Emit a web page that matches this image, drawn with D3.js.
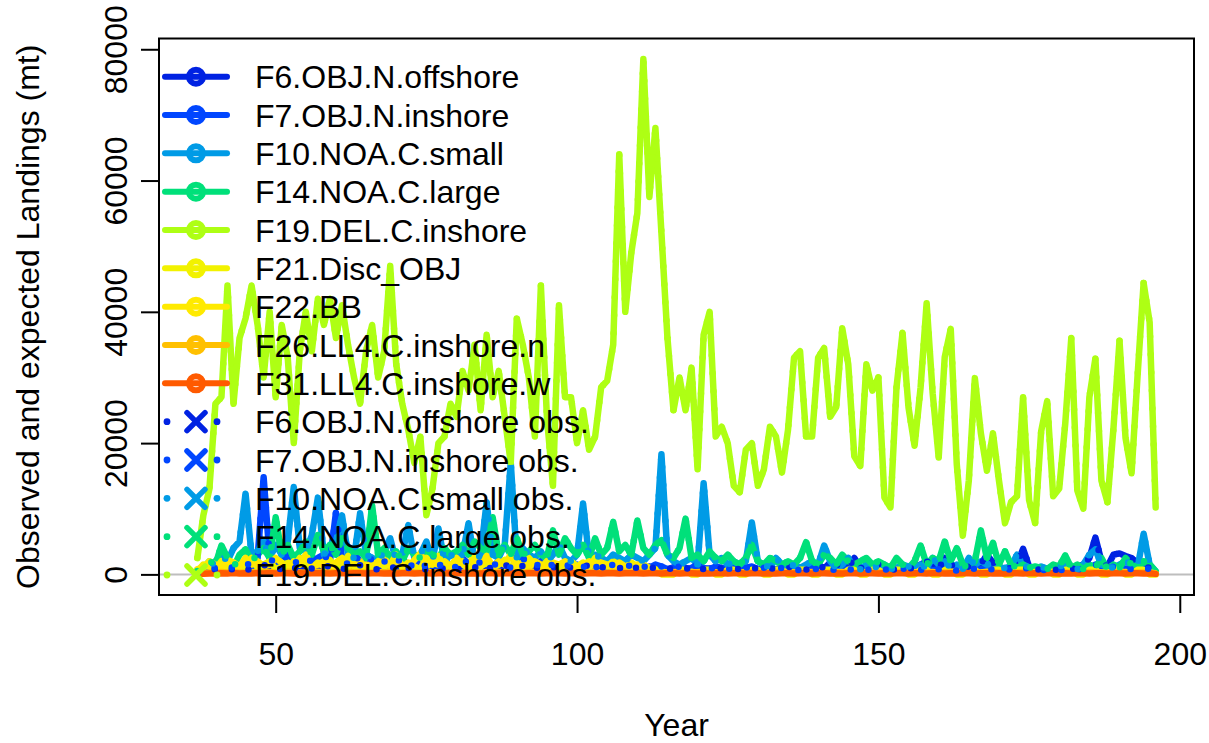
<!DOCTYPE html>
<html><head><meta charset="utf-8">
<script src="https://cdn.jsdelivr.net/npm/d3@7"></script>
<style>html,body{margin:0;padding:0;background:#fff;} svg{display:block;}</style>
</head><body><svg id="c" width="1209" height="743"></svg>
<script>
const firstYear = 37, lastYear = 196;
const xTicks = [50, 100, 150, 200];
const yTicks = [0, 20000, 40000, 60000, 80000];
const fleetNames = ["F6.OBJ.N.offshore","F7.OBJ.N.inshore","F10.NOA.C.small","F14.NOA.C.large","F19.DEL.C.inshore","F21.Disc_OBJ","F22.BB","F26.LL4.C.inshore.n","F31.LL4.C.inshore.w"];
const fleetColors = ["#0022E2","#0046FF","#009BE6","#00E07A","#AEFF14","#F2F200","#FFEA00","#FFC000","#FF5A00"];
const obsNames = ["F6.OBJ.N.offshore obs.","F7.OBJ.N.inshore obs.","F10.NOA.C.small obs.","F14.NOA.C.large obs.","F19.DEL.C.inshore obs."];
const obsColors = ["#0022E2","#0046FF","#009BE6","#00E07A","#AEFF14"];

// expected landings, years 37..196
const F6 = [100,300,500,800,600,1000,700,1200,900,600,
1000,1500,800,1200,700,1500,1000,800,1300,900,
1200,800,1500,1000,700,1200,900,1400,800,1000,
700,1100,800,1300,600,1000,800,1200,700,900,
1100,800,1400,900,700,1200,1000,1600,800,1100,
900,1500,1000,700,1300,1800,900,1200,800,1000,
1400,800,1100,700,1000,1500,900,1200,800,1000,
900,1300,700,1100,800,1200,900,1000,700,1100,
800,1000,600,1200,800,900,700,1000,800,600,
900,700,1100,800,600,1000,700,900,1200,800,
1000,700,1300,1500,900,1800,1400,1500,1000,2500,
1000,800,1200,1500,700,900,600,1000,800,1200,
1500,2000,1200,900,2500,1500,1000,700,1200,900,
1500,3000,1800,1200,800,1000,1500,3900,1200,800,
700,900,600,800,1000,700,1200,1500,2500,5600,
2000,1200,3000,3200,2800,2500,1500,1200,1000,300];
const F7 = [200,400,700,1000,800,1200,1000,1500,1800,1200,
2500,14800,2500,1500,2000,3000,1500,2500,1800,2200,
2500,3000,2000,9400,2500,1500,3000,2000,1500,2500,
1500,2000,1200,1800,2500,1200,1500,2200,1000,1500,
1200,2000,1500,1000,2500,1500,1000,2000,1500,1200,
2000,1500,1000,2000,2500,1500,1000,2000,1200,1500,
1000,1500,1200,1500,1000,2000,1000,1500,1000,1500,
1200,1000,1500,800,1200,1000,1500,1200,800,1000,
1200,800,1000,1500,1000,800,1200,1000,800,1000,
800,1000,1200,800,1000,600,800,1000,1200,800,
600,800,1000,700,900,800,600,1000,800,700,
800,600,900,700,800,600,700,900,600,800,
700,900,600,800,1000,700,600,800,700,900,
800,1000,700,600,800,700,900,1200,700,600,
700,600,800,700,600,800,700,900,1000,1500,
1000,800,1200,1000,900,800,700,1000,800,300];
const F10 = [300,600,1200,2000,3000,2000,4000,5000,12300,3000,
3500,5000,2500,4500,3000,5000,13300,4000,3500,6000,
11700,3000,4500,5000,9000,3000,2500,9300,3000,2500,
2000,3500,5500,2000,3000,7500,2500,3000,5000,2000,
7000,2000,3000,2500,3000,7800,2000,3000,11000,3000,
2500,4500,17000,2500,4000,3000,2500,3500,2000,3000,
4500,2500,2000,3000,10800,2500,3000,2500,2000,3000,
2500,2000,3000,2500,2000,3000,4000,18300,3000,2000,
1500,2000,2500,1500,13900,3000,2000,2500,1500,2000,
1500,2000,7900,2000,1500,1000,2500,1500,1000,1500,
1000,1500,2000,1500,4400,2000,1000,1500,2500,1000,
800,1500,1000,1200,1500,800,1000,1500,1200,800,
1500,1000,2500,1500,2000,1000,1500,800,2500,1500,
2000,1500,1500,800,1000,1200,3000,1500,1000,800,
1200,800,1000,1200,1500,1000,800,1500,3000,3800,
1500,1200,1000,1500,2000,1500,1000,6200,1500,500];
const F14 = [500,1000,2000,1500,4400,2500,1000,3000,3800,2000,
3000,4000,2500,8700,3000,4500,2500,3500,5000,3000,
6000,3500,4500,3000,5500,4000,3000,3500,2500,10500,
3000,4000,2500,3500,2000,4000,3000,2500,3500,3000,
2500,4000,3000,3500,4500,3000,5000,4000,3500,8700,
3000,4500,3000,5500,3000,3500,4500,3000,2500,6700,
3000,5500,4000,3000,4500,2500,5500,3000,4000,8000,
3500,4500,3000,8200,4000,3000,4500,5200,3000,2500,
4000,8500,2500,3000,2000,3500,2500,2000,3000,2000,
1500,2500,4500,2000,1500,2500,2000,1500,2000,1500,
2500,4900,2000,1500,3000,2500,1500,3000,2000,1500,
2000,2500,1500,2000,1500,1000,2500,1500,1000,2000,
4400,1500,2500,2000,5000,2000,4000,1500,1000,2000,
6700,2500,4800,1500,3500,1500,1000,1500,1000,1200,
1000,800,1500,1200,2900,1000,1500,800,1500,1000,
2500,800,1500,1000,2500,1500,1000,2000,1500,500];
const F19 = [2500,9000,13000,26000,27000,44000,26000,36000,39000,44000,
38000,30000,40000,27000,38000,33000,20000,34000,40000,34000,
42000,38000,42000,36000,41000,35000,30000,26000,34000,38000,
30000,34000,47000,32000,26000,22000,17000,21000,9000,13000,
20000,21000,26000,24000,31000,28000,35000,25000,36500,27000,
31000,24000,17000,39000,35000,30000,21000,44000,24000,13500,
41000,27000,27000,20000,25000,19000,21000,28500,29500,35000,
64000,40000,49000,55000,78500,57500,68000,52000,36000,25000,
30000,25000,31500,16000,36500,40000,21000,22500,20000,13500,
12500,19000,20000,13500,16000,22500,21000,15500,22000,33000,
34000,21000,21000,33000,34500,24000,25500,37500,32000,18000,
16500,32000,28000,30000,11700,10200,28500,36800,25400,19600,
28500,41300,27600,17800,33100,37400,16800,5900,14300,29900,
21500,15800,21500,14300,7800,11000,11900,27000,11300,7800,
21800,26400,11900,13100,23000,36000,12800,10000,27000,32900,
14300,11000,22300,35600,20800,15400,30300,44400,38400,10200];
const F21 = [500,1500,1200,800,2000,1000,1500,800,1200,2500,
1000,1500,2000,800,1200,1800,1000,2500,1500,1000,
1800,1200,2200,1000,1500,2800,1200,800,1500,1000,
2000,1200,1500,3000,1000,1800,1200,800,2500,1500,
2800,1000,1500,1200,2000,1500,3000,1200,1800,1000,
1500,2200,1000,1800,1200,2500,1500,1000,2000,1200,
1000,1500,2000,1200,1800,1000,2500,1500,1200,2000,
1500,1000,1800,1200,1500,1000,800,0,0,0,
700,700,0,0,700,700,0,0,700,700,
0,0,700,700,0,0,700,700,0,0,
700,700,0,0,700,700,0,0,700,700,
0,0,700,700,0,0,700,700,0,0,
700,700,0,0,700,700,0,0,700,700,
0,0,700,700,0,0,700,700,0,0,
700,700,0,0,700,700,0,0,700,700,
0,0,700,700,0,0,700,700,0,0];
const F22 = [800,1000,2000,1500,1000,2200,1800,1200,2500,1500,
2000,1200,1500,2500,1800,1000,2000,1500,3000,1200,
1500,2000,1000,1800,2500,1200,1500,2000,1000,1800,
1500,2500,1200,2000,1500,1000,2200,3200,1200,1800,
1500,2000,1200,2500,1500,1000,2000,1500,2800,1200,
2000,1500,3000,1200,1800,1000,2000,1500,1000,1800,
1500,2000,1200,1000,1500,2000,1200,1800,1500,1000,
1800,1200,1000,1500,1200,800,600,400,300,300,
300,250,400,300,350,250,300,400,300,250,
350,300,250,400,300,350,250,300,400,300,
250,350,300,400,250,300,350,300,250,400,
300,350,250,300,400,300,250,350,300,300,
400,250,300,350,300,250,400,300,350,250,
300,400,300,250,350,300,400,250,300,350,
300,250,400,300,350,300,250,400,300,350,
250,300,400,300,350,250,300,400,300,150];
const F26 = [100,200,300,250,350,300,400,250,300,350,
300,400,350,250,300,400,350,300,250,350,
400,300,350,250,300,400,300,350,250,300,
350,300,400,250,300,350,300,250,400,300,
300,350,250,400,300,350,300,250,350,300,
400,300,350,300,250,350,400,300,350,250,
300,350,300,250,400,300,350,300,250,350,
300,400,300,250,350,300,300,250,300,350,
300,250,300,350,300,250,300,350,300,250,
300,350,300,250,300,300,350,250,300,300,
250,300,350,300,250,300,300,350,250,300,
300,250,350,300,300,250,300,350,300,250,
300,300,350,250,300,300,250,350,300,300,
250,300,350,300,300,250,300,350,300,250,
300,300,250,350,300,300,250,300,350,300,
300,250,300,350,300,250,300,300,250,100];
const F31 = [50,100,150,120,180,150,200,130,170,150,
180,150,200,140,160,190,150,170,140,180,
160,190,150,170,200,140,160,180,150,170,
190,150,170,140,180,160,150,190,170,150,
160,180,150,170,190,150,160,140,180,170,
150,190,160,170,140,180,160,150,190,170,
160,150,180,170,140,190,160,150,170,180,
150,170,160,190,150,170,160,140,180,160,
150,170,160,140,180,150,170,160,150,170,
160,150,170,180,140,160,150,170,160,150,
170,160,150,180,160,140,170,150,160,170,
150,160,170,140,160,150,170,160,150,170,
160,150,170,160,140,170,150,160,170,150,
160,170,150,160,140,170,160,150,170,160,
150,160,170,150,160,140,170,160,150,170,
160,150,170,160,150,170,160,150,160,80];

// observed landings (read as matching the expected fits)
const F6obs = F6, F7obs = F7, F10obs = F10, F14obs = F14, F19obs = F19;

const years = d3.range(firstYear, lastYear + 1);
const expected = [F6, F7, F10, F14, F19, F21, F22, F26, F31];
const observed = [F6obs, F7obs, F10obs, F14obs, F19obs];

const svg = d3.select("#c");
const FONT = "'Liberation Sans', Arial, Helvetica, sans-serif";
const FS = 32;
const L = 159, R = 1194, T = 38.5, B = 595;

const xPad = 0.04 * (lastYear - firstYear);
const x = d3.scaleLinear().domain([firstYear - xPad, lastYear + xPad]).range([L, R]);
const yMax = d3.max(expected.concat(observed), a => d3.max(a));
const y = d3.scaleLinear().domain([-0.04 * yMax, yMax * 1.04]).range([B, T]);

// zero reference line
svg.append("line").attr("x1", L).attr("x2", R).attr("y1", y(0)).attr("y2", y(0))
  .attr("stroke", "#BEBEBE").attr("stroke-width", 2);

const line = d3.line().x((d, i) => x(years[i])).y(d => y(d));
const plot = svg.append("g");
expected.forEach((s, k) => {
  plot.append("path").attr("d", line(s)).attr("fill", "none")
    .attr("stroke", fleetColors[k]).attr("stroke-width", 6.5)
    .attr("stroke-linejoin", "round").attr("stroke-linecap", "round");
});
observed.forEach((s, k) => {
  plot.append("path").attr("d", line(s)).attr("fill", "none")
    .attr("stroke", obsColors[k]).attr("stroke-width", 6.5)
    .attr("stroke-dasharray", "0,18").attr("stroke-linecap", "round");
});

// box
svg.append("rect").attr("x", L).attr("y", T).attr("width", R - L).attr("height", B - T)
  .attr("fill", "none").attr("stroke", "#000").attr("stroke-width", 2);

// axes
const xAxis = svg.append("g").attr("transform", `translate(0,${B})`)
  .call(d3.axisBottom(x).tickValues(xTicks).tickSize(18).tickSizeOuter(0).tickFormat(d3.format("d")));
const yAxis = svg.append("g").attr("transform", `translate(${L},0)`)
  .call(d3.axisLeft(y).tickValues(yTicks).tickSize(18).tickSizeOuter(0).tickFormat(d3.format("d")));
[xAxis, yAxis].forEach(g => {
  g.select(".domain").remove();
  g.selectAll("line").attr("stroke", "#000").attr("stroke-width", 2);
  g.selectAll("text").attr("font-family", FONT).attr("font-size", FS).attr("fill", "#000");
});
xAxis.append("line").attr("x1", x(xTicks[0])).attr("x2", x(xTicks[xTicks.length-1])).attr("stroke", "#000").attr("stroke-width", 2);
yAxis.append("line").attr("y1", y(yTicks[0])).attr("y2", y(yTicks[yTicks.length-1])).attr("stroke", "#000").attr("stroke-width", 2);
xAxis.selectAll(".tick text").attr("y", 70).attr("dy", null).attr("dominant-baseline", "auto");
yAxis.selectAll(".tick text").attr("x", null).attr("dy", null).attr("text-anchor", "middle")
  .attr("transform", `translate(${127 - L},0) rotate(-90)`);

// axis titles
svg.append("text").attr("x", (L + R) / 2).attr("y", 736).attr("text-anchor", "middle")
  .attr("font-family", FONT).attr("font-size", FS).text("Year");
svg.append("text").attr("transform", `translate(39,${(T + B) / 2}) rotate(-90)`).attr("text-anchor", "middle")
  .attr("font-family", FONT).attr("font-size", FS).text("Observed and expected Landings (mt)");

// legend
const leg = svg.append("g");
const rowY = i => 76.7 + i * 38.33;
fleetNames.forEach((n, i) => {
  const cy = rowY(i), c = fleetColors[i];
  leg.append("line").attr("x1", 165).attr("x2", 227).attr("y1", cy).attr("y2", cy)
    .attr("stroke", c).attr("stroke-width", 6).attr("stroke-linecap", "round");
  leg.append("circle").attr("cx", 196).attr("cy", cy).attr("r", 7).attr("fill", "none")
    .attr("stroke", c).attr("stroke-width", 6);
  leg.append("text").attr("x", 255).attr("y", cy + 11.5).attr("font-family", FONT)
    .attr("font-size", FS).text(n);
});
obsNames.forEach((n, j) => {
  const i = fleetNames.length + j, cy = rowY(i), c = obsColors[j];
  [167, 217].forEach(cx => leg.append("circle").attr("cx", cx).attr("cy", cy).attr("r", 3.4).attr("fill", c));
  leg.append("path").attr("d", `M${196-9},${cy-9}L${196+9},${cy+9}M${196-9},${cy+9}L${196+9},${cy-9}`)
    .attr("stroke", c).attr("stroke-width", 5.5).attr("stroke-linecap", "round");
  leg.append("text").attr("x", 255).attr("y", cy + 11.5).attr("font-family", FONT)
    .attr("font-size", FS).text(n);
});
</script></body></html>
